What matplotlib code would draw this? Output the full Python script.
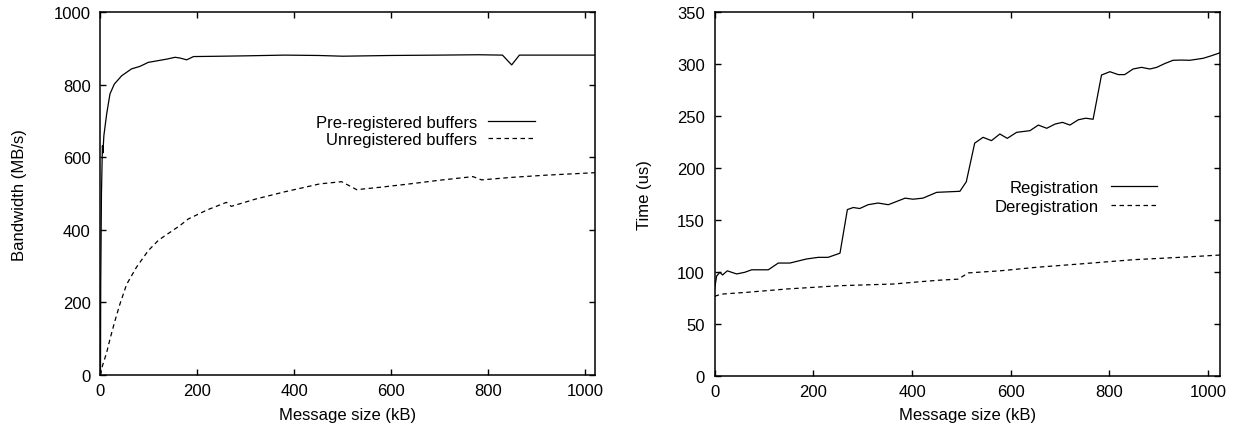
import matplotlib
matplotlib.use('Agg')
import matplotlib.pyplot as plt

plt.rcParams['font.family'] = ['Liberation Sans', 'DejaVu Sans']
plt.rcParams['font.size'] = 12

# Left panel: bandwidth vs message size (kB)
pre_x = [0, 0.5, 2, 4, 5, 7, 12.8, 19.6, 28.5, 43.7, 64, 81.5, 98.7, 137, 154, 164,
         178, 192, 250, 300, 380, 450, 500, 600, 700, 780, 830, 849, 865, 900, 1024]
pre_bw = [0, 250, 500, 632, 612, 660, 720, 775, 802, 825, 844, 851, 862, 871, 876, 874,
          869, 878, 879, 880, 882, 881, 879, 881, 882, 883, 882, 855, 882, 882, 882]

unreg_x = [0, 4, 12.8, 19.6, 30, 40, 54, 74.7, 98.7, 120, 164, 181, 220, 260, 270, 320,
           380, 453, 498, 529, 580, 639, 700, 769, 787, 850, 920, 1024]
unreg_bw = [0, 25, 62, 99, 150, 195, 250, 298, 343, 372, 412, 430, 455, 476, 465, 485,
            505, 527, 533, 511, 518, 527, 537, 547, 538, 545, 551, 558]

# Right panel: registration / deregistration time (us)
reg_x = [0, 2, 4, 10.7, 16, 25.6, 44.6, 61, 75, 108.7, 129, 152.5, 186, 210, 230, 254,
         269, 281, 294, 311, 331, 352, 386, 402, 422, 450, 497, 510, 527, 544, 561, 578,
         593, 612, 639, 656, 673, 690, 705, 720, 737, 752, 767, 784, 801, 818, 831, 848,
         865, 882, 896, 912, 929, 946, 963, 990, 1007, 1024]
reg_t = [84, 90, 96, 99.6, 97, 101, 98, 99.6, 102, 102, 108.5, 108.5, 112.4, 114, 114, 118,
         160, 162, 161, 164.7, 166.3, 164.7, 171, 170, 171, 176.6, 177.6, 186.8, 224, 229.6,
         226.4, 232.8, 228.6, 234.4, 236, 241.4, 238.3, 242.4, 244, 241.4, 246.5, 248, 247,
         289.6, 292.8, 290, 290, 295.4, 297, 295.4, 297, 300.6, 303.8, 304, 303.8, 305.7,
         308.2, 311]

dereg_x = [0, 10, 17.5, 65, 146, 254, 362, 416, 456, 493.5, 514, 578, 652, 740, 848, 943, 1024]
dereg_t = [76.5, 78, 78.7, 80.3, 83.5, 86.7, 88.3, 90.5, 92, 93, 99, 101, 104.4, 107.6,
           111.7, 114, 116.2]

fig = plt.figure(figsize=(12.39, 4.31), dpi=100)
ax1 = fig.add_axes([0.0811, 0.1276, 0.3991, 0.8415])
ax2 = fig.add_axes([0.5768, 0.1260, 0.4078, 0.8431])

dash = (0, (3.6, 2.8))

ax1.plot(pre_x, pre_bw, color='black', lw=0.9, label='Pre-registered buffers')
ax1.plot(unreg_x, unreg_bw, color='black', lw=0.9, linestyle=dash, label='Unregistered buffers')
ax1.set_xlim(0, 1021)
ax1.set_ylim(0, 1000)
ax1.set_xticks(range(0, 1001, 200))
ax1.set_yticks(range(0, 1001, 200))
ax1.set_xlabel('Message size (kB)')
ax1.set_ylabel('Bandwidth (MB/s)')
ax1.xaxis.set_label_coords(0.5, -0.088)
ax1.yaxis.set_label_coords(-0.149, 0.5)
ax1.legend(loc='upper right', bbox_to_anchor=(0.879, 0.716), frameon=False,
           markerfirst=False, handlelength=2.8, handletextpad=0.68,
           labelspacing=0.12, borderpad=0, borderaxespad=0)

ax2.plot(reg_x, reg_t, color='black', lw=0.9, label='Registration')
ax2.plot(dereg_x, dereg_t, color='black', lw=0.9, linestyle=dash, label='Deregistration')
ax2.set_xlim(0, 1024)
ax2.set_ylim(0, 350)
ax2.set_xticks(range(0, 1001, 200))
ax2.set_yticks(range(0, 351, 50))
ax2.set_xlabel('Message size (kB)')
ax2.set_ylabel('Time (us)')
ax2.xaxis.set_label_coords(0.5, -0.087)
ax2.yaxis.set_label_coords(-0.124, 0.5)
ax2.legend(loc='upper right', bbox_to_anchor=(0.8747, 0.538), frameon=False,
           markerfirst=False, handlelength=2.75, handletextpad=0.7,
           labelspacing=0.2, borderpad=0, borderaxespad=0)

for ax in (ax1, ax2):
    ax.tick_params(direction='in', length=4, width=1, top=True, right=True,
                   labelsize=12, pad=7)
    ax.tick_params(axis='x', pad=6)
    for s in ax.spines.values():
        s.set_linewidth(1.1)

fig.savefig('out.png', dpi=100)
